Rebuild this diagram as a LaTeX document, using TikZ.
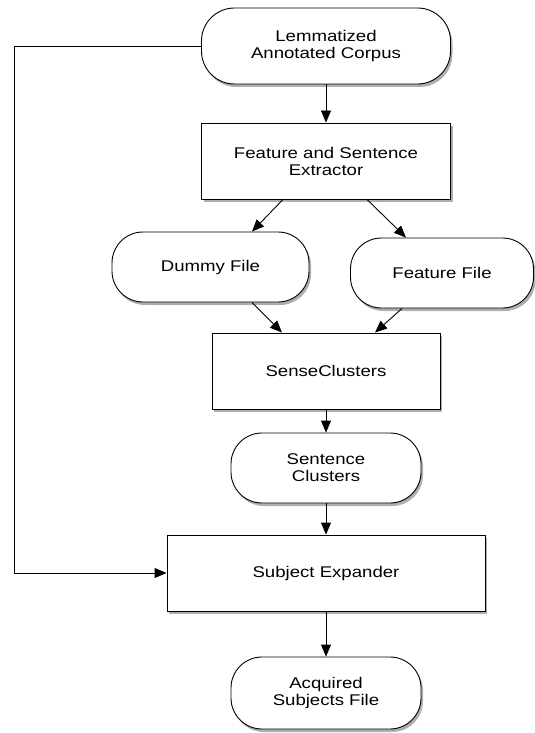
\documentclass[tikz,border=0pt]{standalone}
\usepackage{fontspec}
\setmainfont{Liberation Sans}[FakeStretch=1.2]
\usetikzlibrary{arrows.meta,shadows}
\begin{document}
\begin{tikzpicture}[x=1pt,y=-1pt,
  base/.style={draw=black, line width=0.9pt, fill=white, align=center, inner sep=0pt,
    font=\fontsize{15.5}{17}\selectfont,
    drop shadow={shadow xshift=2pt, shadow yshift=-3pt, opacity=0.45, fill=black!70}},
  pill/.style={base, rectangle, rounded corners=33pt},
  proc/.style={base, rectangle},
  conn/.style={line width=0.9pt, -{Triangle[length=12pt,width=10pt]}},
]
\useasboundingbox (0,0) rectangle (535,733);
\node[pill, minimum width=249pt, minimum height=76pt] (lac) at (326,46) {Lemmatized\\Annotated Corpus};
\node[proc, minimum width=249pt, minimum height=76pt] (fse) at (326,161) {Feature and Sentence\\Extractor};
\node[pill, minimum width=197pt, minimum height=70pt, rounded corners=31pt] (dummy) at (210.5,267) {Dummy File};
\node[pill, minimum width=183pt, minimum height=70pt, rounded corners=31pt] (feat) at (442,273) {Feature File};
\node[proc, minimum width=228pt, minimum height=76pt] (sc) at (326,371) {SenseClusters};
\node[pill, minimum width=190pt, minimum height=70pt, rounded corners=31pt] (sent) at (326,468) {Sentence\\Clusters};
\node[proc, minimum width=318pt, minimum height=76pt] (se) at (326,573) {Subject Expander};
\node[pill, minimum width=190pt, minimum height=72pt, rounded corners=31pt] (acq) at (326,693) {Acquired\\Subjects File};
\coordinate (corner) at (14,46);

\draw[conn] (lac.south) -- (fse.north);
\draw[conn] ([xshift=-43pt]fse.south) -- ([xshift=41.5pt]dummy.north);
\draw[conn] ([xshift=41pt]fse.south) -- ([xshift=-36pt]feat.north);
\draw[conn] ([xshift=41.5pt]dummy.south) -- ([xshift=-44pt]sc.north);
\draw[conn] ([xshift=-40pt]feat.south) -- ([xshift=49pt]sc.north);
\draw[conn] (sc.south) -- (sent.north);
\draw[conn] (sent.south) -- (se.north);
\draw[conn] (se.south) -- (acq.north);
\draw[conn] (lac.west) -- (corner) |- (se.west);
\end{tikzpicture}
\end{document}
